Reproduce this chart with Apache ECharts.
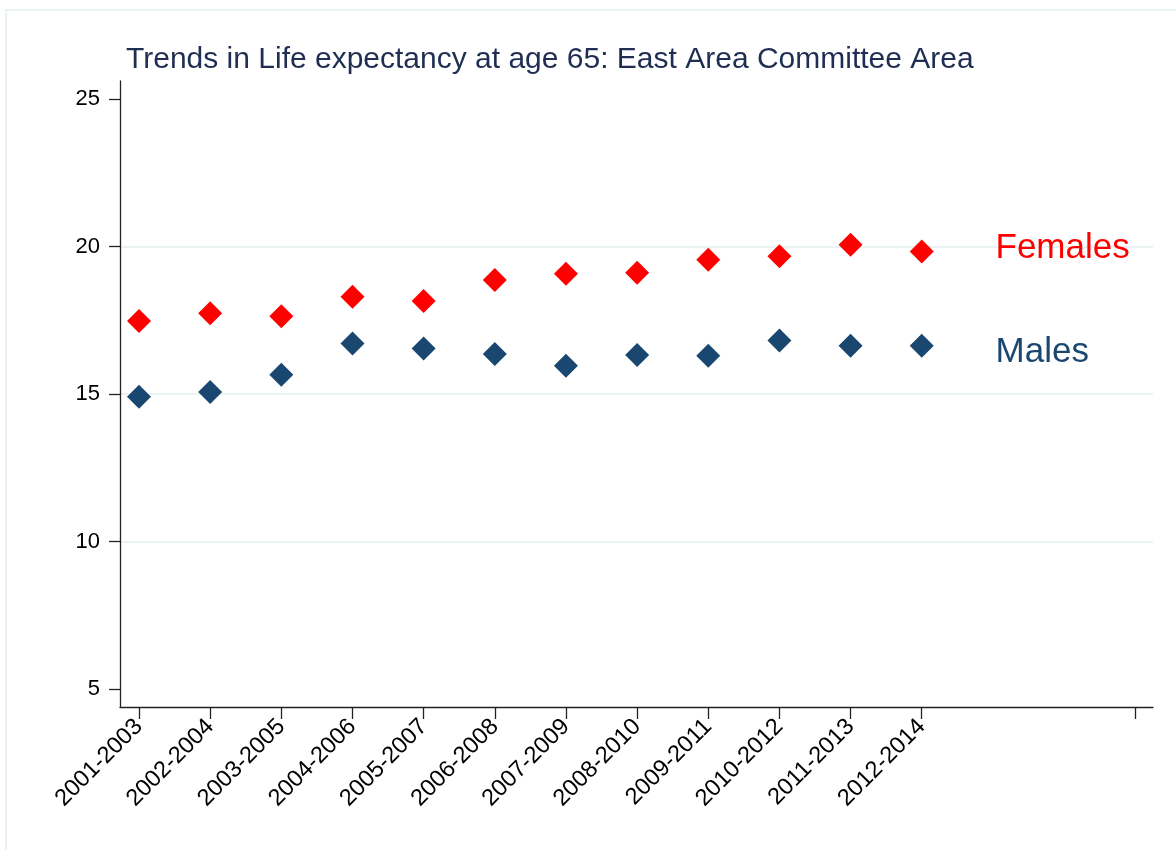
<!DOCTYPE html>
<html>
<head>
<meta charset="utf-8">
<script src="https://cdn.jsdelivr.net/npm/echarts@6/dist/echarts.min.js"></script>
<style>
html,body{margin:0;padding:0;background:#fff;}
#chart{width:1176px;height:857px;}
</style>
</head>
<body>
<div id="chart"></div>
<script>
var periods = ['2001-2003','2002-2004','2003-2005','2004-2006','2005-2007','2006-2008','2007-2009','2008-2010','2009-2011','2010-2012','2011-2013','2012-2014'];
var females = [17.48, 17.74, 17.64, 18.30, 18.16, 18.87, 19.08, 19.12, 19.56, 19.68, 20.07, 19.84];
var males = [14.91, 15.07, 15.66, 16.72, 16.55, 16.36, 15.96, 16.33, 16.30, 16.82, 16.64, 16.64];
var yTicks = [5, 10, 15, 20, 25];
var gridValues = [10, 15, 20];
var xTickPositions = [1,2,3,4,5,6,7,8,9,10,11,12,15];
var seriesLabels = [{name:'Females', x:13.03, y:19.95}, {name:'Males', x:13.03, y:16.43}];

var FONT = '"Liberation Sans", Arial, Helvetica, sans-serif';
var RED = '#ff0000';
var NAVY = '#1a476f';

function toPoints(arr){ return arr.map(function(v,i){ return [i+1, v]; }); }

var chart = echarts.init(document.getElementById('chart'), null, {renderer:'canvas'});
chart.setOption({
  backgroundColor: '#ffffff',
  animation: false,
  title: {
    text: 'Trends in Life expectancy at age 65: East Area Committee Area',
    left: 121, top: 40,
    textStyle: {fontFamily: FONT, fontSize: 30, fontWeight: 'normal', color: '#1f2e52'}
  },
  graphic: [{
    type: 'polyline', silent: true, z: -1,
    shape: {points: [[6,850],[6,10],[1176,10]]},
    style: {stroke: '#eaf2f3', lineWidth: 2, fill: null}
  }],
  grid: {left: 120, right: 23, top: 81, bottom: 150, containLabel: false},
  xAxis: {
    type: 'value', min: 0.733, max: 15.25, z: 2,
    axisLine: {show: true, lineStyle: {color: '#222', width: 1.3}},
    axisTick: {show: true, length: 12, lineStyle: {color: '#222', width: 1.3}, customValues: xTickPositions},
    axisLabel: {
      show: true, rotate: 45, margin: 16, fontFamily: FONT, fontSize: 23.5, color: '#000',
      customValues: periods.map(function(p,i){ return i+1; }),
      formatter: function(v){ var i = Math.round(v)-1; return periods[i] || ''; }
    },
    splitLine: {show: false}
  },
  yAxis: {
    type: 'value', min: 4.39, max: 25.62, z: 2,
    axisLine: {show: true, lineStyle: {color: '#222', width: 1.3}},
    axisTick: {show: true, length: 11, lineStyle: {color: '#222', width: 1.3}, customValues: yTicks},
    axisLabel: {show: true, margin: 20, fontFamily: FONT, fontSize: 22, color: '#000', customValues: yTicks},
    splitLine: {show: false}
  },
  series: [
    {
      type: 'line', data: [], silent: true, z: 1,
      markLine: {
        z: 1, silent: true, symbol: 'none', label: {show: false},
        lineStyle: {color: '#eaf2f3', width: 2, type: 'solid'},
        data: gridValues.map(function(v){ return {yAxis: v}; })
      }
    },
    {
      name: 'Females', type: 'scatter', symbol: 'diamond', symbolSize: 24, z: 3,
      itemStyle: {color: RED, opacity: 1}, data: toPoints(females)
    },
    {
      name: 'Males', type: 'scatter', symbol: 'diamond', symbolSize: 24, z: 3,
      itemStyle: {color: NAVY, opacity: 1}, data: toPoints(males)
    },
    {
      type: 'scatter', symbolSize: 1, z: 4, silent: true,
      itemStyle: {color: 'rgba(0,0,0,0)', opacity: 1},
      data: seriesLabels.map(function(s, i){
        return {
          value: [s.x, s.y],
          label: {
            show: true, position: 'right', distance: 0, opacity: 1,
            formatter: s.name, fontFamily: FONT, fontSize: 35,
            color: i === 0 ? RED : NAVY
          }
        };
      })
    }
  ]
});
</script>
</body>
</html>
